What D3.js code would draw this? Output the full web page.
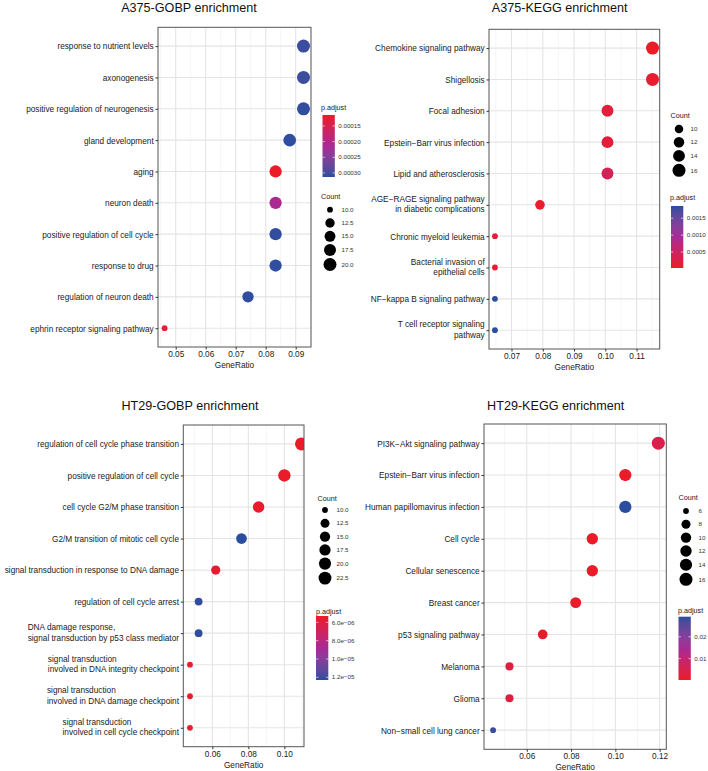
<!DOCTYPE html>
<html><head><meta charset="utf-8">
<script src="https://cdn.jsdelivr.net/npm/d3@7"></script>
<style>
body{margin:0;background:#fff}
svg{display:block}
text{font-family:"Liberation Sans",Arial,Helvetica,sans-serif}
</style>
</head><body>
<svg id="chart" width="708" height="771"></svg>
<script>
// ---------------- DATA ----------------
const a375GoTerms = ["response to nutrient levels","axonogenesis","positive regulation of neurogenesis","gland development","aging","neuron death","positive regulation of cell cycle","response to drug","regulation of neuron death","ephrin receptor signaling pathway"];
const a375GoRatio = [0.0926,0.0926,0.0926,0.0880,0.0833,0.0833,0.0833,0.0833,0.0741,0.0463];
const a375GoCount = [20,20,20,19,18,18,18,18,16,10];
const a375GoPadj  = [0.000305,0.000305,0.000310,0.000310,0.000115,0.000210,0.000310,0.000310,0.000310,0.000125];
const a375GoTicks = [0.05,0.06,0.07,0.08,0.09];
const a375GoTickLabels = ["0.05","0.06","0.07","0.08","0.09"];
const a375GoCountBreaks = [10,12.5,15,17.5,20];
const a375GoCountLabels = ["10.0","12.5","15.0","17.5","20.0"];
const a375GoPadjBreaks = [0.00015,0.00020,0.00025,0.00030];
const a375GoPadjLabels = ["0.00015","0.00020","0.00025","0.00030"];

const a375KeggTerms = ["Chemokine signaling pathway","Shigellosis","Focal adhesion","Epstein\u2212Barr virus infection","Lipid and atherosclerosis","AGE\u2212RAGE signaling pathway\nin diabetic complications","Chronic myeloid leukemia","Bacterial invasion of\nepithelial cells","NF\u2212kappa B signaling pathway","T cell receptor signaling\npathway"];
const a375KeggRatio = [0.1151,0.1151,0.1007,0.1007,0.1007,0.0791,0.0647,0.0647,0.0647,0.0647];
const a375KeggCount = [16,16,14,14,14,11,9,9,9,9];
const a375KeggPadj  = [0.00003,0.00010,0.00018,0.00018,0.00040,0.00008,0.00015,0.00015,0.00186,0.00186];
const a375KeggTicks = [0.07,0.08,0.09,0.10,0.11];
const a375KeggTickLabels = ["0.07","0.08","0.09","0.10","0.11"];
const a375KeggCountBreaks = [10,12,14,16];
const a375KeggCountLabels = ["10","12","14","16"];
const a375KeggPadjBreaks = [0.0005,0.0010,0.0015];
const a375KeggPadjLabels = ["0.0005","0.0010","0.0015"];

const ht29GoTerms = ["regulation of cell cycle phase transition","positive regulation of cell cycle","cell cycle G2/M phase transition","G2/M transition of mitotic cell cycle","signal transduction in response to DNA damage","regulation of cell cycle arrest","DNA damage response,\nsignal transduction by p53 class mediator","signal transduction\ninvolved in DNA integrity checkpoint","signal transduction\ninvolved in DNA damage checkpoint","signal transduction\ninvolved in cell cycle checkpoint"];
const ht29GoRatio = [0.1095,0.1000,0.0857,0.0762,0.0619,0.0524,0.0524,0.0476,0.0476,0.0476];
const ht29GoCount = [23,21,18,16,13,11,11,10,10,10];
const ht29GoPadj  = [5.3e-6,5.35e-6,5.4e-6,1.23e-5,5.6e-6,1.22e-5,1.22e-5,5.5e-6,5.5e-6,5.5e-6];
const ht29GoTicks = [0.06,0.08,0.10];
const ht29GoTickLabels = ["0.06","0.08","0.10"];
const ht29GoCountBreaks = [10,12.5,15,17.5,20,22.5];
const ht29GoCountLabels = ["10.0","12.5","15.0","17.5","20.0","22.5"];
const ht29GoPadjBreaks = [6e-6,8e-6,1e-5,1.2e-5];
const ht29GoPadjLabels = ["6.0e\u221206","8.0e\u221206","1.0e\u221205","1.2e\u221205"];

const ht29KeggTerms = ["PI3K\u2212Akt signaling pathway","Epstein\u2212Barr virus infection","Human papillomavirus infection","Cell cycle","Cellular senescence","Breast cancer","p53 signaling pathway","Melanoma","Glioma","Non\u2212small cell lung cancer"];
const ht29KeggRatio = [0.1194,0.1045,0.1045,0.0896,0.0896,0.0821,0.0672,0.0522,0.0522,0.0448];
const ht29KeggCount = [16,14,14,12,12,11,9,7,7,6];
const ht29KeggPadj  = [0.0045,0.0005,0.0292,0.0003,0.0004,0.0007,0.0006,0.0035,0.0035,0.0285];
const ht29KeggTicks = [0.06,0.08,0.10,0.12];
const ht29KeggTickLabels = ["0.06","0.08","0.10","0.12"];
const ht29KeggCountBreaks = [6,8,10,12,14,16];
const ht29KeggCountLabels = ["6","8","10","12","14","16"];
const ht29KeggPadjBreaks = [0.01,0.02];
const ht29KeggPadjLabels = ["0.01","0.02"];

// ---------------- STYLE / LAYOUT ----------------
const GRAD_COLORS = ["#EB1C27", "#A82A96", "#2A4D9F"]; // low -> mid -> high p.adjust
const FS_AXIS = 8.25, FS_TITLE = 12.6, FS_LTITLE = 7.2, FS_LLAB = 6.2;
const DMIN = 5.8, DMAX = 13;
const TXT = "#1a1a1a";

const panels = [
  { title:"A375-GOBP enrichment", terms:a375GoTerms, ratio:a375GoRatio, count:a375GoCount, padj:a375GoPadj,
    ticks:a375GoTicks, tickLabels:a375GoTickLabels, minor:[0.045,0.055,0.065,0.075,0.085,0.095],
    xDomain:[0.0441,0.0951], box:{x0:158,x1:311,y0:27.3,y1:347}, titleX:189, titleY:7,
    padjDomain:[0.000115,0.000313], padjReverse:true,
    cb:{titleX:321, titleY:107, x:322.5, y0:115, y1:177, breaks:a375GoPadjBreaks, labels:a375GoPadjLabels},
    cl:{titleX:321, titleY:196, cx:330, y0:209.7, labX:341.5, breaks:a375GoCountBreaks, labels:a375GoCountLabels},
    leftAlignMulti:false },
  { title:"A375-KEGG enrichment", terms:a375KeggTerms, ratio:a375KeggRatio, count:a375KeggCount, padj:a375KeggPadj,
    ticks:a375KeggTicks, tickLabels:a375KeggTickLabels, minor:[0.065,0.075,0.085,0.095,0.105,0.115],
    xDomain:[0.0628,0.1174], box:{x0:489,x1:659.7,y0:29.3,y1:349}, titleX:559.7, titleY:7,
    padjDomain:[0.00003,0.00186], padjReverse:false,
    cb:{titleX:670, titleY:197, x:671, y0:206, y1:268, breaks:a375KeggPadjBreaks, labels:a375KeggPadjLabels},
    cl:{titleX:670.5, titleY:115, cx:679, y0:129, labX:690.5, breaks:a375KeggCountBreaks, labels:a375KeggCountLabels},
    leftAlignMulti:false },
  { title:"HT29-GOBP enrichment", terms:ht29GoTerms, ratio:ht29GoRatio, count:ht29GoCount, padj:ht29GoPadj,
    ticks:ht29GoTicks, tickLabels:ht29GoTickLabels, minor:[0.05,0.07,0.09,0.11],
    xDomain:[0.0439,0.1109], box:{x0:183.3,x1:304,y0:425,y1:746.7}, titleX:190, titleY:405,
    padjDomain:[5.3e-6,1.23e-5], padjReverse:true,
    cb:{titleX:316, titleY:611.7, x:316, y0:616, y1:680, breaks:ht29GoPadjBreaks, labels:ht29GoPadjLabels},
    cl:{titleX:317.5, titleY:498.3, cx:325, y0:510, labX:336.5, breaks:ht29GoCountBreaks, labels:ht29GoCountLabels},
    leftAlignMulti:true },
  { title:"HT29-KEGG enrichment", terms:ht29KeggTerms, ratio:ht29KeggRatio, count:ht29KeggCount, padj:ht29KeggPadj,
    ticks:ht29KeggTicks, tickLabels:ht29KeggTickLabels, minor:[0.05,0.07,0.09,0.11],
    xDomain:[0.0407,0.1230], box:{x0:484,x1:666.3,y0:424,y1:749.3}, titleX:555.7, titleY:405,
    padjDomain:[0.0002,0.0292], padjReverse:false,
    cb:{titleX:678, titleY:610, x:678.5, y0:616.7, y1:680, breaks:ht29KeggPadjBreaks, labels:ht29KeggPadjLabels},
    cl:{titleX:678.5, titleY:497.3, cx:686, y0:511, labX:698.5, breaks:ht29KeggCountBreaks, labels:ht29KeggCountLabels},
    leftAlignMulti:false }
];

const svg = d3.select("#chart");
const defs = svg.append("defs");

function drawPanel(p, idx) {
  const g = svg.append("g");
  const b = p.box;
  g.append("text").attr("x", p.titleX).attr("y", p.titleY + FS_TITLE*0.36)
    .attr("text-anchor","middle").attr("font-size",FS_TITLE).attr("fill","#111").text(p.title);

  const x = d3.scaleLinear().domain(p.xDomain).range([b.x0,b.x1]);
  const y = d3.scalePoint().domain(p.terms).range([b.y0,b.y1]).padding(0.6);
  const [lo, hi] = p.padjDomain;
  const color = d3.scaleLinear().domain([lo,(lo+hi)/2,hi]).range(GRAD_COLORS).interpolate(d3.interpolateLab).clamp(true);
  const tScale = d3.scaleLinear().domain(d3.extent(p.count)).range([0,1]);
  const dScale = d3.scaleLinear().domain([0,1]).range([DMIN,DMAX]);
  const diam = v => dScale(Math.sqrt(tScale(v)));

  // grid
  g.append("g").selectAll("line").data(p.minor.filter(v=>x(v)>b.x0 && x(v)<b.x1)).join("line")
    .attr("x1",d=>x(d)).attr("x2",d=>x(d)).attr("y1",b.y0).attr("y2",b.y1)
    .attr("stroke","#EEEEEE").attr("stroke-width",0.6);
  g.append("g").selectAll("line").data(p.ticks).join("line")
    .attr("x1",d=>x(d)).attr("x2",d=>x(d)).attr("y1",b.y0).attr("y2",b.y1)
    .attr("stroke","#E4E4E4").attr("stroke-width",1.1);
  g.append("g").selectAll("line").data(p.terms).join("line")
    .attr("x1",b.x0).attr("x2",b.x1).attr("y1",d=>y(d)).attr("y2",d=>y(d))
    .attr("stroke","#E4E4E4").attr("stroke-width",1.1);

  // clip
  const cid = "clip"+idx;
  defs.append("clipPath").attr("id",cid).append("rect")
    .attr("x",b.x0).attr("y",b.y0).attr("width",b.x1-b.x0).attr("height",b.y1-b.y0);

  const rows = p.terms.map((t,i)=>({term:t, ratio:p.ratio[i], count:p.count[i], padj:p.padj[i]}));
  g.append("g").attr("clip-path",`url(#${cid})`).selectAll("circle").data(rows).join("circle")
    .attr("cx",d=>x(d.ratio)).attr("cy",d=>y(d.term)).attr("r",d=>diam(d.count)/2)
    .attr("fill",d=>color(d.padj));

  // border
  g.append("rect").attr("x",b.x0).attr("y",b.y0).attr("width",b.x1-b.x0).attr("height",b.y1-b.y0)
    .attr("fill","none").attr("stroke","#555").attr("stroke-width",1);

  // x axis
  const xa = g.append("g").attr("transform",`translate(0,${b.y1})`)
    .call(d3.axisBottom(x).tickValues(p.ticks).tickFormat((d,i)=>p.tickLabels[i]).tickSize(2.5).tickPadding(1.5).tickSizeOuter(0));
  xa.select(".domain").remove();
  xa.selectAll(".tick line").attr("stroke","#333");
  xa.selectAll(".tick text").attr("font-size",FS_AXIS).attr("fill",TXT).attr("font-family",null);
  g.append("text").attr("x",(b.x0+b.x1)/2).attr("y",b.y1+18+FS_AXIS*0.36)
    .attr("text-anchor","middle").attr("font-size",FS_AXIS).attr("fill",TXT).text("GeneRatio");

  // y axis
  const ya = g.append("g").attr("transform",`translate(${b.x0},0)`)
    .call(d3.axisLeft(y).tickSize(2.5).tickPadding(1.5).tickSizeOuter(0));
  ya.select(".domain").remove();
  ya.selectAll(".tick line").attr("stroke","#333");
  ya.selectAll(".tick text").each(function(d){
    const t = d3.select(this);
    const lines = d.split("\n");
    const n = lines.length;
    t.text(null).attr("dy",null).attr("font-size",FS_AXIS).attr("fill",TXT).attr("font-family",null);
    const lh = 10.4;
    const shift = n>1 ? -1.2 : 0;
    const spans = lines.map((ln,i)=> t.append("tspan").attr("x",-4.3)
      .attr("y",(i-(n-1)/2)*lh + FS_AXIS*0.35 + shift).text(ln));
    if (p.leftAlignMulti && n>1) {
      const w = d3.max(spans, s=>s.node().getComputedTextLength());
      t.attr("text-anchor","start");
      spans.forEach(s=>s.attr("x",-4.3-w));
    }
  });

  // colorbar legend
  const cb = p.cb;
  const cbw = 12.3;
  g.append("text").attr("x",cb.titleX).attr("y",cb.titleY+FS_LTITLE*0.35).attr("font-size",FS_LTITLE)
    .attr("fill",TXT).text("p.adjust");
  const gid = "grad"+idx;
  const grad = defs.append("linearGradient").attr("id",gid).attr("x1",0).attr("x2",0).attr("y1",0).attr("y2",1);
  const topV = p.padjReverse ? lo : hi;
  const botV = p.padjReverse ? hi : lo;
  d3.range(0,21).forEach(i=>{
    const f = i/20;
    grad.append("stop").attr("offset",f).attr("stop-color",color(topV + (botV-topV)*f));
  });
  g.append("rect").attr("x",cb.x).attr("y",cb.y0).attr("width",cbw).attr("height",cb.y1-cb.y0).attr("fill",`url(#${gid})`);
  const cpos = d3.scaleLinear().domain([topV,botV]).range([cb.y0,cb.y1]);
  cb.breaks.forEach((bv,i)=>{
    const yy = cpos(bv);
    g.append("line").attr("x1",cb.x).attr("x2",cb.x+2.4).attr("y1",yy).attr("y2",yy).attr("stroke","#fff").attr("stroke-width",0.6);
    g.append("line").attr("x1",cb.x+cbw-2.4).attr("x2",cb.x+cbw).attr("y1",yy).attr("y2",yy).attr("stroke","#fff").attr("stroke-width",0.6);
    g.append("text").attr("x",cb.x+cbw+3.5).attr("y",yy+FS_LLAB*0.35).attr("font-size",FS_LLAB).attr("fill","#333").text(cb.labels[i]);
  });

  // count legend
  const cl = p.cl;
  g.append("text").attr("x",cl.titleX).attr("y",cl.titleY+FS_LTITLE*0.35).attr("font-size",FS_LTITLE)
    .attr("fill",TXT).text("Count");
  const keyH = v => Math.max(13.3, diam(v)+2);
  let cy = cl.y0;
  cl.breaks.forEach((bv,i)=>{
    if (i>0) cy += (keyH(cl.breaks[i-1]) + keyH(bv))/2;
    g.append("circle").attr("cx",cl.cx).attr("cy",cy).attr("r",diam(bv)/2).attr("fill","#000");
    g.append("text").attr("x",cl.labX).attr("y",cy+FS_LLAB*0.35).attr("font-size",FS_LLAB).attr("fill","#333").text(cl.labels[i]);
  });
}

panels.forEach(drawPanel);
</script>
</body></html>
